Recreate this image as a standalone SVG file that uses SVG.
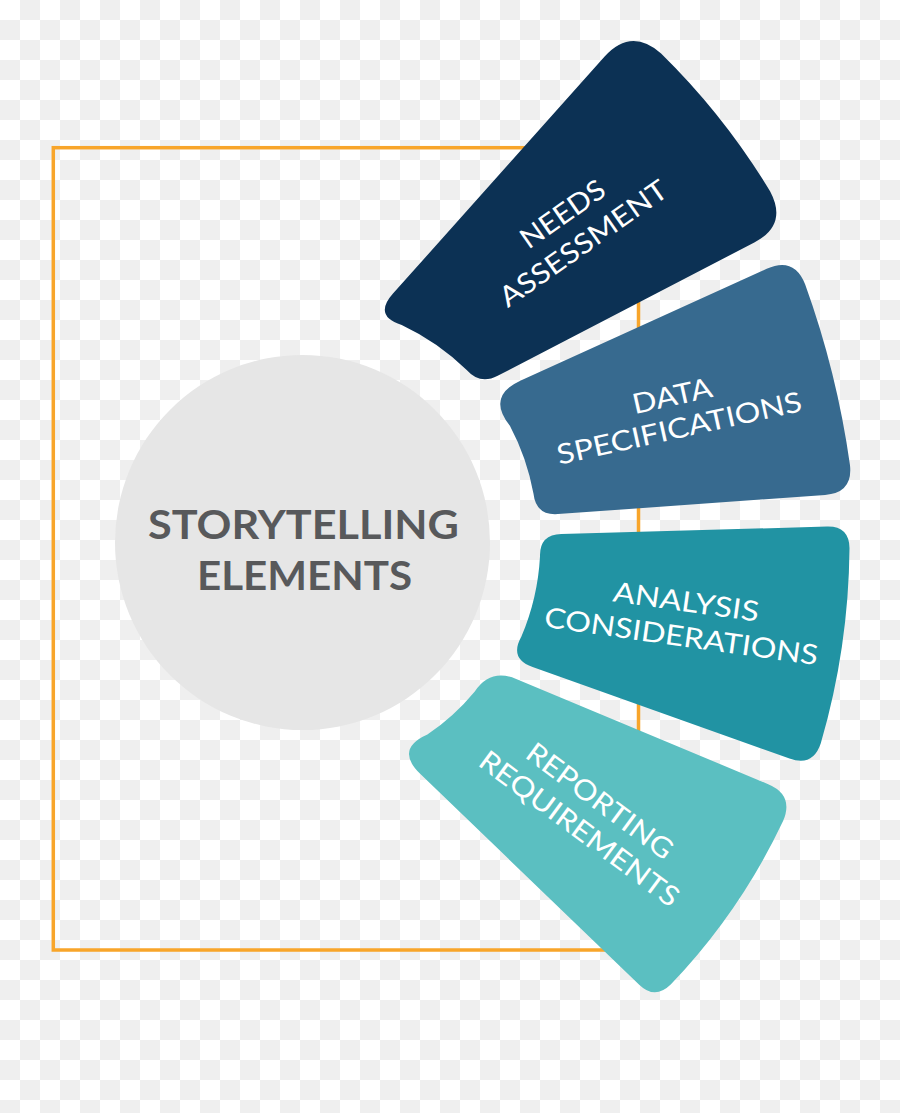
<svg xmlns="http://www.w3.org/2000/svg" width="900" height="1113" viewBox="0 0 900 1113">
<defs>
<pattern id="chk" width="40" height="40" patternUnits="userSpaceOnUse">
<rect width="40" height="40" fill="#ffffff"/>
<rect x="20" y="0" width="20" height="20" fill="#efefef"/>
<rect x="0" y="20" width="20" height="20" fill="#efefef"/>
</pattern>
<style>
.seg-text{font-family:"Lato","Open Sans","Liberation Sans",sans-serif;font-size:28px;fill:#ffffff;text-anchor:middle;}
.center-text{font-family:"Lato","Open Sans","Liberation Sans",sans-serif;font-size:40px;font-weight:700;fill:#58595b;text-anchor:middle;}
</style>
</defs>
<rect width="900" height="1113" fill="url(#chk)"/>
<g id="frame">
<rect x="53.3" y="147.7" width="585.2" height="802.3" fill="none" stroke="#f8a52a" stroke-width="3.5"/>
</g>
<g id="connectors"></g>
<g id="center">
<circle cx="302.5" cy="542.5" r="187.5" fill="#e6e6e6"/>
<text class="center-text" x="303.5" y="539" textLength="311" lengthAdjust="spacingAndGlyphs">STORYTELLING</text>
<text class="center-text" x="304.5" y="589.5" textLength="215" lengthAdjust="spacingAndGlyphs">ELEMENTS</text>
</g>
<g id="needs-assessment">
<path fill="#0c3154" d="M 393,293.6 L 604.4,56.8 Q 631,27 661.1,53.4 A 700 700 0 0 1 770.2,191.4 Q 788,225 754.3,242.5 L 497.7,375.8 Q 480,385 466.7,370 A 237 237 0 0 0 401.7,324.9 Q 373,316 393,293.6 Z"/>
<g transform="translate(572.8,228.5) rotate(-35)">
<text class="seg-text" x="0" y="-8" textLength="97" lengthAdjust="spacingAndGlyphs">NEEDS</text>
<text class="seg-text" x="0" y="28" textLength="198" lengthAdjust="spacingAndGlyphs">ASSESSMENT</text>
</g>
</g>
<g id="data-specifications">
<path fill="#376a8f" d="M 520.8,380.4 L 766.7,268.8 Q 794,256.4 805.1,284.2 A 900 900 0 0 1 850,465.2 Q 853,493 825.1,495 L 557.9,514.1 Q 536,515.7 533.5,493.8 A 235 235 0 0 0 509.9,425.8 Q 486.2,396.1 520.8,380.4 Z"/>
<g transform="translate(675.5,411.3) rotate(-12.5)">
<text class="seg-text" x="0" y="-6" textLength="81" lengthAdjust="spacingAndGlyphs">DATA</text>
<text class="seg-text" x="0" y="27" textLength="250" lengthAdjust="spacingAndGlyphs">SPECIFICATIONS</text>
</g>
</g>
<g id="analysis-considerations">
<path fill="#2193a3" d="M 561.3,533.9 L 827,526.6 Q 849,526 849.5,548 A 720 720 0 0 1 820.8,743.3 Q 813,767 789.5,758.6 L 532.6,667 Q 509,658.6 521.3,636.8 A 237 237 0 0 0 540,556.5 Q 539.3,534.5 561.3,533.9 Z"/>
<g transform="translate(683.7,618.3) rotate(8)">
<text class="seg-text" x="0" y="-7" textLength="147" lengthAdjust="spacingAndGlyphs">ANALYSIS</text>
<text class="seg-text" x="0" y="28" textLength="276" lengthAdjust="spacingAndGlyphs">CONSIDERATIONS</text>
</g>
</g>
<g id="reporting-requirements">
<path fill="#5bbfc1" d="M 516.2,678.9 L 768.2,784.2 Q 794,795 783.2,820.8 A 620 620 0 0 1 670.7,984.6 Q 655,1000 639.2,984.7 L 420.4,774.1 Q 394.5,749.1 427.4,734.5 A 226 226 0 0 0 474.8,691.4 Q 490.4,668.1 516.2,678.9 Z"/>
<g transform="translate(590,814.2) rotate(36.5)">
<text class="seg-text" x="0" y="-6.75" textLength="175" lengthAdjust="spacingAndGlyphs">REPORTING</text>
<text class="seg-text" x="0" y="27.75" textLength="241" lengthAdjust="spacingAndGlyphs">REQUIREMENTS</text>
</g>
</g>
</svg>
